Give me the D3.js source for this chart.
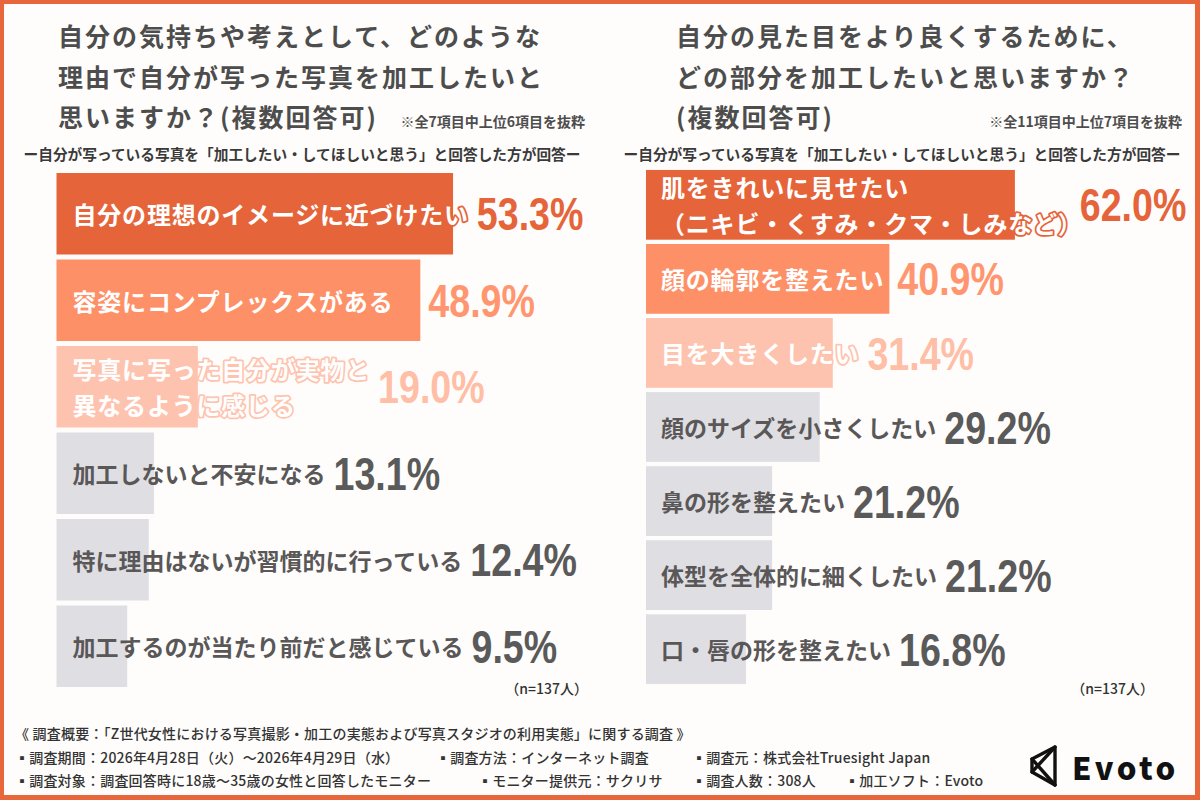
<!DOCTYPE html>
<html lang="ja">
<head>
<meta charset="utf-8">
<script src="https://cdn.jsdelivr.net/npm/d3@7"></script>
<style>
  body { margin: 0; background: #fff; }
  svg text { font-family: "Noto Sans CJK JP", "Noto Sans", sans-serif; }
  svg text.value { font-family: "Liberation Sans", Arial, sans-serif; font-weight: 700; }
</style>
</head>
<body>
<svg id="chart" width="1200" height="800"></svg>
<script>
// ---- data ----
const leftTitle = ['自分の気持ちや考えとして、どのような', '理由で自分が写った写真を加工したいと', '思いますか？(複数回答可)'];
const leftNote = '※全7項目中上位6項目を抜粋';
const leftCategories = [
  '自分の理想のイメージに近づけたい',
  '容姿にコンプレックスがある',
  '写真に写った自分が実物と\n異なるように感じる',
  '加工しないと不安になる',
  '特に理由はないが習慣的に行っている',
  '加工するのが当たり前だと感じている'
];
const leftValues = [53.3, 48.9, 19.0, 13.1, 12.4, 9.5];

const rightTitle = ['自分の見た目をより良くするために、', 'どの部分を加工したいと思いますか？', '(複数回答可)'];
const rightNote = '※全11項目中上位7項目を抜粋';
const rightCategories = [
  '肌をきれいに見せたい\n（ニキビ・くすみ・クマ・しみなど）',
  '顔の輪郭を整えたい',
  '目を大きくしたい',
  '顔のサイズを小さくしたい',
  '鼻の形を整えたい',
  '体型を全体的に細くしたい',
  '口・唇の形を整えたい'
];
const rightValues = [62.0, 40.9, 31.4, 29.2, 21.2, 21.2, 16.8];

const subTitle = 'ー自分が写っている写真を「加工したい・してほしいと思う」と回答した方が回答ー';
const sampleText = '（n=137人）';

const footerLines = [
  [['《 調査概要：「Z世代女性における写真撮影・加工の実態および写真スタジオの利用実態」に関する調査 》', 15]],
  [['▪調査期間：2026年4月28日（火）～2026年4月29日（水）', 15], ['▪調査方法：インターネット調査', 436], ['▪調査元：株式会社Truesight Japan', 692]],
  [['▪調査対象：調査回答時に18歳～35歳の女性と回答したモニター', 15], ['▪モニター提供元：サクリサ', 478], ['▪調査人数：308人', 692], ['▪加工ソフト：Evoto', 845]]
];

const barColors = ['#E5643A', '#FE9068', '#FEC3AE'];
const valueColors = ['#E5643A', '#FF9670', '#FFBEA6'];
const grayBar = '#DFDEE3';
const grayText = '#595757';

const svg = d3.select('#chart');

// frame
svg.append('rect').attr('width', 1200).attr('height', 800).attr('fill', '#E8663C');
svg.append('rect').attr('x', 4).attr('y', 4).attr('width', 1191).attr('height', 791).attr('fill', '#FEFDFB');

function drawPanel(opt){
  // title lines
  svg.append('g').selectAll('text')
    .data(opt.title)
    .enter()
    .append('text')
      .attr('x', opt.titleX)
      .attr('y', (d, i) => 35 + i * 40.5)
      .attr('dominant-baseline', 'central')
      .attr('font-size', 25)
      .attr('font-weight', 700)
      .attr('letter-spacing', 2)
      .attr('fill', '#4D4D4D')
      .text(d => d);

  svg.append('text')
    .attr('x', opt.noteX)
    .attr('y', 121)
    .attr('dominant-baseline', 'central')
    .attr('text-anchor', 'end')
    .attr('font-size', 14)
    .attr('font-weight', 700)
    .attr('fill', '#4D4D4D')
    .text(opt.note);

  svg.append('text')
    .attr('x', opt.subX)
    .attr('y', 153)
    .attr('dominant-baseline', 'central')
    .attr('text-anchor', 'middle')
    .attr('font-size', 14.7)
    .attr('font-weight', 700)
    .attr('fill', '#3A3A3A')
    .text(subTitle);

  const x = d3.scaleLinear().domain([0, 100]).range([0, opt.maxWidth]);
  const y = d3.scaleBand()
    .domain(opt.categories)
    .range(opt.yRange)
    .paddingInner(0.058)
    .paddingOuter(0.029);

  const g = svg.append('g').attr('transform', `translate(${opt.left},0)`);

  const rows = g.selectAll('.row')
    .data(opt.categories.map((c, i) => ({label: c, value: opt.values[i], rank: i})))
    .enter()
    .append('g')
      .attr('class', 'row');

  rows.append('rect')
    .attr('x', 0)
    .attr('y', d => y(d.label))
    .attr('width', d => x(d.value))
    .attr('height', y.bandwidth())
    .attr('fill', d => d.rank < 3 ? barColors[d.rank] : grayBar);

  rows.each(function(d){
    const row = d3.select(this);
    const hi = d.rank < 3;
    const cy = y(d.label) + y.bandwidth() / 2;
    const lines = d.label.split('\n');
    const fs = hi ? 24 : 23;
    let labelEnd = 0;
    lines.forEach((line, i) => {
      const t = row.append('text')
        .attr('x', opt.labelPad)
        .attr('y', cy + (i - (lines.length - 1) / 2) * 36)
        .attr('dominant-baseline', 'central')
        .attr('font-size', fs)
        .attr('font-weight', 700)
        .attr('letter-spacing', hi ? 0.8 : 0)
        .attr('fill', hi ? '#fff' : grayText)
        .text(line);
      if(hi){
        t.attr('stroke', barColors[d.rank])
          .attr('stroke-width', 3.5)
          .attr('stroke-linejoin', 'round')
          .attr('paint-order', 'stroke');
      }
      let w = t.node().getComputedTextLength();
      if(/[）」]$/.test(line)) w -= fs * 0.45;   // closing bracket has empty right half
      labelEnd = Math.max(labelEnd, opt.labelPad + w);
    });

    // condensed number: squeeze a regular face horizontally
    row.append('g')
      .attr('transform', `translate(${Math.max(x(d.value), labelEnd) + 8},${cy}) scale(0.8,1)`)
      .append('text')
        .attr('class', 'value')
        .attr('dominant-baseline', 'central')
        .attr('font-size', 47)
        .attr('fill', hi ? valueColors[d.rank] : '#5A5A5A')
        .text(d.value.toFixed(1) + '%');
  });

  svg.append('text')
    .attr('x', opt.nX)
    .attr('y', 688)
    .attr('dominant-baseline', 'central')
    .attr('text-anchor', 'end')
    .attr('font-size', 14)
    .attr('font-weight', 500)
    .attr('fill', '#333')
    .text(sampleText);
}

drawPanel({
  title: leftTitle, titleX: 58, note: leftNote, noteX: 585, subX: 302,
  categories: leftCategories, values: leftValues,
  left: 56.5, labelPad: 16, maxWidth: 744, yRange: [170.5, 689.5], nX: 588
});
drawPanel({
  title: rightTitle, titleX: 676, note: rightNote, noteX: 1182, subX: 902,
  categories: rightCategories, values: rightValues,
  left: 646, labelPad: 15, maxWidth: 595, yRange: [167.8, 686.2], nX: 1154
});

// footer
footerLines.forEach((items, li) => {
  items.forEach(([txt, fx]) => {
    svg.append('text')
      .attr('x', fx)
      .attr('y', 733 + li * 23.5)
      .attr('dominant-baseline', 'central')
      .attr('font-size', 14)
      .attr('font-weight', 500)
      .attr('letter-spacing', 0.2)
      .attr('fill', '#333')
      .text(txt);
  });
});

// Evoto logo
const logo = svg.append('g').attr('fill', 'none').attr('stroke', '#111').attr('stroke-width', 3.4).attr('stroke-linejoin', 'round').attr('stroke-linecap', 'round');
logo.append('path').attr('d', 'M1055,747 L1032,759 L1032,772 L1055,785 Z');
logo.append('path').attr('d', 'M1032,759 L1055,785 M1032,772 L1055,747');
svg.append('text')
  .attr('x', 1072)
  .attr('y', 766)
  .attr('dominant-baseline', 'central')
  .attr('font-family', 'Inter, Lato, sans-serif')
  .attr('font-size', 31)
  .attr('font-weight', 800)
  .attr('letter-spacing', 3.5)
  .attr('fill', '#111')
  .text('Evoto');
</script>
</body>
</html>
